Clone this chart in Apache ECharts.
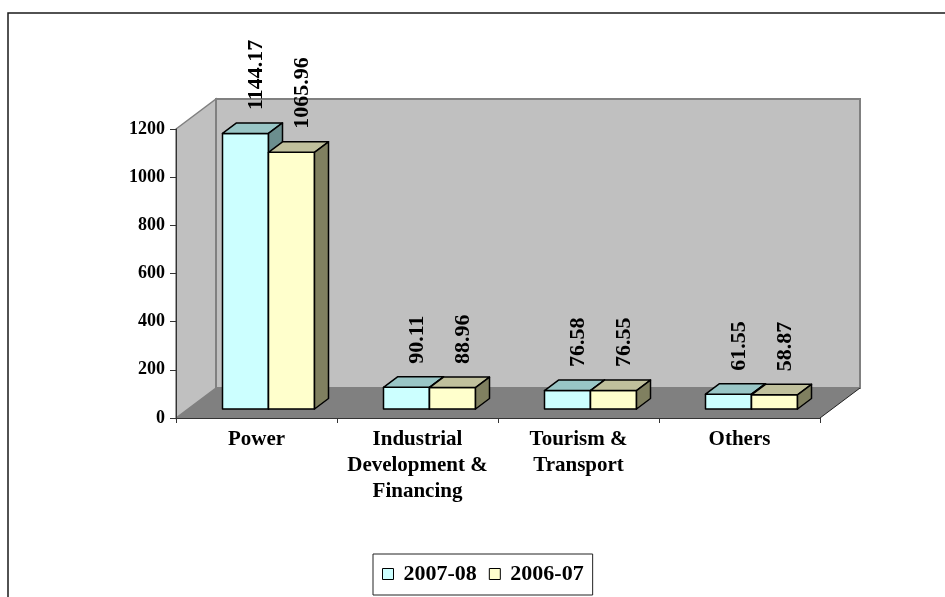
<!DOCTYPE html>
<html>
<head>
<meta charset="utf-8">
<script src="https://cdn.jsdelivr.net/npm/echarts@6/dist/echarts.min.js"></script>
<style>
html,body{margin:0;padding:0;background:#ffffff;}
#c{width:945px;height:597px;}
</style>
</head>
<body>
<div id="c"></div>
<script>
// ---- data ----
const categories = ['Power', 'Industrial\nDevelopment &\nFinancing', 'Tourism &\nTransport', 'Others'];
const seriesNames = ['2007-08', '2006-07'];
const values0708 = [1144.17, 90.11, 76.58, 61.55];
const values0607 = [1065.96, 88.96, 76.55, 58.87];
const yMin = 0, yMax = 1200, yStep = 200;

// ---- style constants ----
const DX = 40, DY = -30;      // wall depth offset
const D0 = 0.3, BD = 0.35;    // bar depth start / depth size (fraction of wall depth)
const GAP = 1.5;              // gap width relative to bar width
const FONT = 'Liberation Serif, Times New Roman, serif';
const faceColors = [
  {front: '#CCFFFF', top: '#99C6C6', side: '#6B8E8E'},
  {front: '#FFFFCC', top: '#C0C09C', side: '#808060'}
];

const chart = echarts.init(document.getElementById('c'), null, {renderer: 'canvas'});

function wallsRender(params, api) {
  const c0 = api.coord([0, yMin]);
  const bw = api.size([1, 0])[0];
  const left = c0[0] - bw / 2;
  const right = left + bw * categories.length;
  const yBot = c0[1];
  const yTop = api.coord([0, yMax])[1];
  return {
    type: 'group',
    children: [
      {type: 'polygon', shape: {points: [[left, yTop], [left + DX, yTop + DY], [left + DX, yBot + DY], [left, yBot]]},
        style: {fill: '#C0C0C0', stroke: '#808080', lineWidth: 1.5}},
      {type: 'polygon', shape: {points: [[left + DX, yTop + DY], [right + DX, yTop + DY], [right + DX, yBot + DY], [left + DX, yBot + DY]]},
        style: {fill: '#C0C0C0', stroke: '#808080', lineWidth: 2}},
      {type: 'polygon', shape: {points: [[left, yBot], [right, yBot], [right + DX, yBot + DY], [left + DX, yBot + DY]]},
        style: {fill: '#808080'}},
      {type: 'line', shape: {x1: right, y1: yBot, x2: right + DX, y2: yBot + DY},
        style: {stroke: '#202020', lineWidth: 1}}
    ]
  };
}

function makeBarRender(s) {
  return function (params, api) {
    const i = api.value(0), v = api.value(1);
    const c = api.coord([i, v]);
    const base = api.coord([i, yMin]);
    const bw = api.size([1, 0])[0];
    const barW = bw / (2 + GAP);
    const x = c[0] - bw / 2 + (GAP / 2) * barW + s * barW + D0 * DX;
    const top = c[1] + D0 * DY;
    const bot = base[1] + D0 * DY;
    const ddx = BD * DX, ddy = BD * DY;
    const col = faceColors[s];
    const st = {stroke: '#000', lineWidth: 1.5, lineJoin: 'round'};
    return {
      type: 'group',
      children: [
        {type: 'polygon', shape: {points: [[x, top], [x + barW, top], [x + barW, bot], [x, bot]]},
          style: Object.assign({fill: col.front}, st)},
        {type: 'polygon', shape: {points: [[x, top], [x + barW, top], [x + barW + ddx, top + ddy], [x + ddx, top + ddy]]},
          style: Object.assign({fill: col.top}, st)},
        {type: 'polygon', shape: {points: [[x + barW, top], [x + barW + ddx, top + ddy], [x + barW + ddx, bot + ddy], [x + barW, bot]]},
          style: Object.assign({fill: col.side}, st)},
        {type: 'text', x: x + barW / 2 + ddx / 2 + 4, y: top + ddy - 13, rotation: Math.PI / 2,
          style: {text: v.toFixed(2), x: 0, y: 0, align: 'left', verticalAlign: 'middle',
            fill: '#000', font: 'bold 22px ' + FONT}}
      ]
    };
  };
}

const option = {
  backgroundColor: '#ffffff',
  animation: false,
  graphic: [
    {type: 'rect', shape: {x: 8, y: 13, width: 2000, height: 2000},
      style: {fill: 'none', stroke: '#1a1a1a', lineWidth: 1.5}, z: 100, silent: true}
  ],
  grid: {left: 176, right: 125, top: 129, bottom: 179, containLabel: false},
  legend: {
    data: seriesNames,
    left: 373, top: 554,
    padding: [9, 9, 10, 9],
    borderColor: '#222', borderWidth: 1,
    backgroundColor: '#fff',
    itemWidth: 11, itemHeight: 11, itemGap: 12,
    icon: 'rect',
    itemStyle: {borderColor: '#000', borderWidth: 1},
    textStyle: {fontFamily: FONT, fontWeight: 'bold', fontSize: 22, color: '#000', padding: [0, 0, 0, 5]}
  },
  xAxis: {
    type: 'category',
    data: categories,
    z: 5,
    axisLine: {show: true, lineStyle: {color: '#333', width: 1}},
    axisTick: {show: true, alignWithLabel: false, length: 5, lineStyle: {color: '#333'}},
    axisLabel: {interval: 0, margin: 9, fontFamily: FONT, fontWeight: 'bold', fontSize: 21, lineHeight: 26, color: '#000'},
    splitLine: {show: false}
  },
  yAxis: {
    type: 'value',
    min: yMin, max: yMax, interval: yStep,
    z: 5,
    axisLine: {show: true, lineStyle: {color: '#333', width: 1}},
    axisTick: {show: true, length: 6, lineStyle: {color: '#333'}},
    axisLabel: {margin: 11, fontFamily: FONT, fontWeight: 'bold', fontSize: 18, color: '#000',
      formatter: function (v) { return String(v); }},
    splitLine: {show: false}
  },
  series: [
    {
      name: '_walls', type: 'custom', z: 1, silent: true,
      renderItem: wallsRender,
      data: [[0, 0]],
      encode: {x: 0, y: 1}
    },
    {
      name: seriesNames[0], type: 'custom', z: 3,
      itemStyle: {color: faceColors[0].front, borderColor: '#000', borderWidth: 1},
      renderItem: makeBarRender(0),
      data: values0708.map((v, i) => [i, v]),
      encode: {x: 0, y: 1}
    },
    {
      name: seriesNames[1], type: 'custom', z: 3,
      itemStyle: {color: faceColors[1].front, borderColor: '#000', borderWidth: 1},
      renderItem: makeBarRender(1),
      data: values0607.map((v, i) => [i, v]),
      encode: {x: 0, y: 1}
    }
  ]
};
chart.setOption(option);
</script>
</body>
</html>
